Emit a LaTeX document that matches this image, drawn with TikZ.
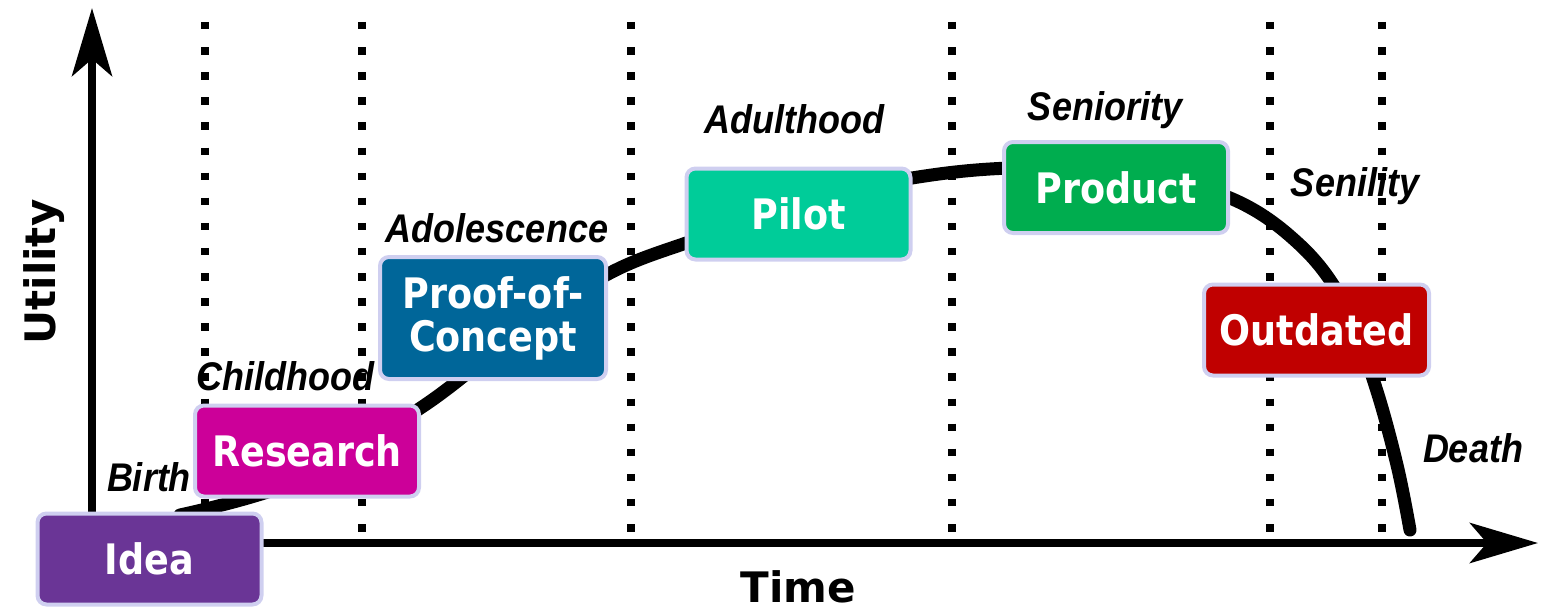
\documentclass[tikz,border=0pt]{standalone}
\usepackage{fontspec}
\usetikzlibrary{arrows.meta}
\newfontfamily\boxfont{DejaVu Sans}[FakeStretch=0.87]
\newfontfamily\axfont{DejaVu Sans}
\newfontfamily\lblfont{Liberation Sans}[FakeStretch=0.9]
\definecolor{bordercol}{HTML}{CFCFF0}
\definecolor{ideacol}{HTML}{6A3596}
\definecolor{researchcol}{HTML}{CC0099}
\definecolor{poccol}{HTML}{006699}
\definecolor{pilotcol}{HTML}{00CC99}
\definecolor{productcol}{HTML}{00AD4F}
\definecolor{outdatedcol}{HTML}{C00000}
\tikzset{
  stagebox/.style={draw=bordercol, line width=4pt, rounded corners=9pt, text=white,
    font=\boxfont\bfseries\fontsize{42}{43}\selectfont, align=center, inner sep=0pt,
    minimum width=224pt, minimum height=91pt},
  phase/.style={font=\lblfont\bfseries\itshape\fontsize{40}{44}\selectfont, inner sep=0pt, anchor=base},
  axlabel/.style={font=\axfont\bfseries\fontsize{42}{46}\selectfont, inner sep=0pt},
  axisline/.style={line width=8pt, -{Stealth[length=68pt, width=40pt, inset=17pt]}},
  dotline/.style={line width=7.5pt, dash pattern=on 7.5pt off 17.6pt},
  lifecurve/.style={line width=13pt, line cap=round}
}
\begin{document}
\begin{tikzpicture}[x=1pt,y=-1pt]
\path[use as bounding box] (0,0) rectangle (1548,610);
% dotted separators
\foreach \xx in {205,362,631,952,1270,1382}{
  \draw[dotline] (\xx,22) -- (\xx,533);
}
% axes
\coordinate (origin) at (92,543);
\coordinate (ytip) at (92,8);
\coordinate (xtip) at (1538,543);
\draw[axisline] (origin) -- (ytip);
\draw[axisline] (88,543) -- (xtip);
% life curve
\draw[lifecurve] plot[smooth, tension=0.6] coordinates {
  (180,515) (300,480) (422,407) (510,340) (608,274) (700,238)
  (800,202) (912,178) (1010,168) (1120,170) (1230,198) (1300,245)
  (1345,305) (1375,385) (1397,465) (1410,530)};
% phase labels
\node[phase] (birth) at (149,491) {Birth};
\node[phase] (childhood) at (285,390) {Childhood};
\node[phase] (adolescence) at (497,242) {Adolescence};
\node[phase] (adulthood) at (794,133) {Adulthood};
\node[phase] (seniority) at (1105,121) {Seniority};
\node[phase] (senility) at (1355,196) {Senility};
\node[phase] (death) at (1473,462) {Death};
% stage boxes
\node[stagebox, fill=ideacol] (idea) at (149.5,559) {Idea};
\node[stagebox, fill=researchcol] (research) at (307,451) {Research};
\node[stagebox, fill=poccol, minimum width=226pt, minimum height=122pt] (poc) at (493,318) {Proof-of-\\Concept};
\node[stagebox, fill=pilotcol] (pilot) at (798.5,214) {Pilot};
\node[stagebox, fill=productcol] (product) at (1116,187.5) {Product};
\node[stagebox, fill=outdatedcol, minimum width=225pt] (outdated) at (1316.5,330) {Outdated};
% axis labels
\node[axlabel, rotate=90] (utility) at (44,272) {Utility};
\node[axlabel] (time) at (798,587) {Time};
\end{tikzpicture}
\end{document}
